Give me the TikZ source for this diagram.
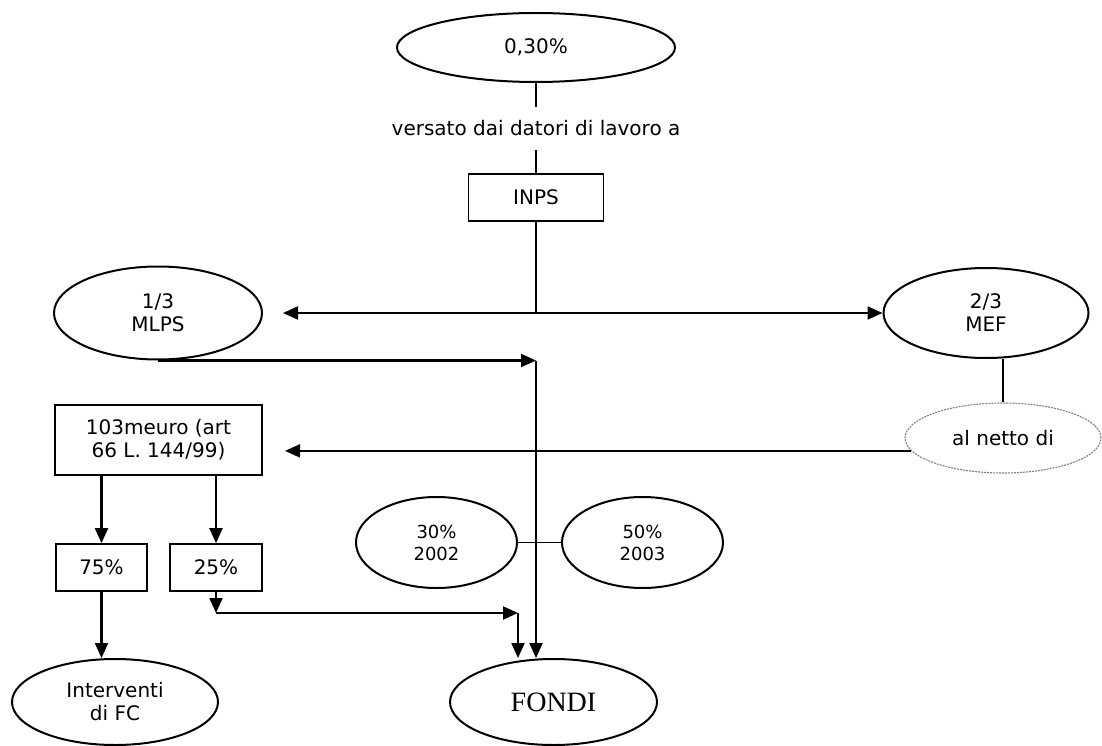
\documentclass[tikz,border=0pt]{standalone}
\usepackage{fontspec}
\setmainfont{DejaVu Sans}
\newfontfamily\serifont{Liberation Serif}
\usetikzlibrary{shapes.geometric,arrows.meta,calc}
\begin{document}
\begin{tikzpicture}[x=1pt,y=-1pt,
  every node/.style={font=\fontsize{20}{23}\selectfont},
  oval/.style={ellipse,draw,line width=2pt,inner sep=0pt,align=center},
  box/.style={rectangle,draw,line width=1.7pt,inner sep=0pt,align=center},
  ln/.style={line width=1.7pt},
  arr/.style={line width=2.1pt,-{Triangle[length=15pt,width=13pt]}},
  small/.style={font=\fontsize{18}{22}\selectfont}
]
\useasboundingbox (0,0) rectangle (1102,746);
% nodes
\node[oval,minimum width=278pt,minimum height=69pt] (e030) at (536,47.5) {0,30\%};
\node[inner sep=0pt,minimum height=43pt] (versato) at (536,128.5) {versato dai datori di lavoro a};
\node[box,minimum width=135pt,minimum height=47pt] (inps) at (536,197.5) {INPS};
\coordinate (j) at (536,313);
\coordinate (ltip) at (283,313);
\node[oval,minimum width=208pt,minimum height=93pt] (mlps) at (158,313) {1/3\\MLPS};
\node[oval,minimum width=205pt,minimum height=90pt] (mef) at (986,313) {2/3\\MEF};
\node[oval,draw=gray,densely dotted,line width=1.1pt,minimum width=196pt,minimum height=70pt] (alnetto) at (1003,438) {al netto di};
\node[box,minimum width=207pt,minimum height=70pt] (b103) at (158.5,440) {103meuro (art\\66 L. 144/99)};
\coordinate (t103) at (285,450);
\node[box,minimum width=91pt,minimum height=47pt] (b75) at (101.5,567.5) {75\%};
\node[box,minimum width=92pt,minimum height=47pt] (b25) at (216,567.5) {25\%};
\node[oval,small,minimum width=161pt,minimum height=91pt] (e30) at (436.5,542.5) {30\%\\2002};
\node[oval,small,minimum width=161pt,minimum height=91pt] (e50) at (642.5,542.5) {50\%\\2003};
\node[oval,minimum width=206pt,minimum height=86pt] (interv) at (115,702) {Interventi\\di FC};
\node[oval,font=\serifont\fontsize{28}{30}\selectfont,minimum width=207pt,minimum height=86pt] (fondi) at (553.5,702) {FONDI};
% connectors
\draw[ln] (e030) -- (versato);
\draw[ln] (versato) -- (inps);
\draw[ln] (inps) -- (j);
\draw[arr] (j) -- (ltip);
\draw[arr] (j) -- (mef);
\coordinate (m1) at (mlps.south -| j);
\draw[arr] (mlps.south) -- (m1);
\draw[arr] (m1) -- (m1 |- fondi.north);
\draw[ln] (mef.south -| alnetto.north) -- (alnetto.north);
\draw[arr] (alnetto.188) -- (alnetto.188 -| t103);
\draw[arr] (b103.south -| b75) -- (b75);
\draw[arr] (b103.south -| b25) -- (b25);
\draw[arr] (b75) -- (b75 |- interv.north);
\draw[ln] (e30) -- (e50);
\coordinate (c1) at (b25.south |- 0,613);
\coordinate (c2) at (518,613);
\draw[arr] (b25) -- (c1);
\draw[arr] (c1) -- (c2);
\draw[arr] (c2) -- (c2 |- fondi.north);
\end{tikzpicture}
\end{document}
